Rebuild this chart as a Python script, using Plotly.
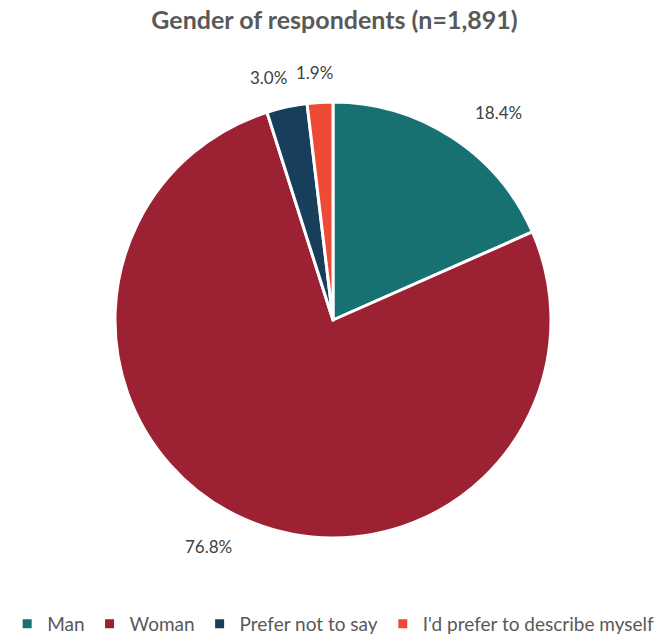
import math
import plotly.graph_objects as go

labels = ["Man", "Woman", "Prefer not to say", "I'd prefer to describe myself"]
values = [18.4, 76.8, 3.0, 1.9]
colors = ["#177170", "#9C2233", "#173E5A", "#EE4B36"]
title = "Gender of respondents (n=1,891)"

W, H = 669, 638
cx, cy, r = 333, 320, 218
FONT = "Lato, Open Sans, sans-serif"

fig = go.Figure(go.Pie(
    labels=labels,
    values=values,
    sort=False,
    direction="clockwise",
    rotation=0,
    marker=dict(colors=colors, line=dict(color="white", width=3)),
    textinfo="none",
    hoverinfo="label+percent",
    domain=dict(x=[(cx - r) / W, (cx + r) / W],
                y=[1 - (cy + r) / H, 1 - (cy - r) / H]),
))

# data labels placed just outside each slice at its mid-angle
total = sum(values)
cum = 0.0
label_r = 240
for v in values:
    mid = (cum + v / 2) / total * 2 * math.pi
    cum += v
    s, c = math.sin(mid), math.cos(mid)
    px = cx + label_r * s + 64 * s
    py = cy - label_r * c - 8 * c
    fig.add_annotation(
        x=px / W, y=1 - py / H, xref="paper", yref="paper",
        text=f"{v:.1f}%", showarrow=False, xanchor="center", yanchor="middle",
        font=dict(family=FONT, size=17, color="#404040"),
    )

fig.update_layout(
    width=W, height=H,
    margin=dict(l=0, r=0, t=0, b=0, autoexpand=False),
    paper_bgcolor="white",
    title=dict(text=f"<b>{title}</b>", x=0.5, xanchor="center", y=1 - 20 / H, yanchor="middle",
               font=dict(family=FONT, size=25, color="#595959")),
    showlegend=True,
    legend=dict(orientation="h", x=0.498, xanchor="center", y=1 - 624 / H, yanchor="middle",
                font=dict(family=FONT, size=19, color="#595959"),
                itemwidth=30, traceorder="normal"),
)

fig.write_html("out.html", config={"displayModeBar": False},
               post_script="document.body.style.margin='0px';")
